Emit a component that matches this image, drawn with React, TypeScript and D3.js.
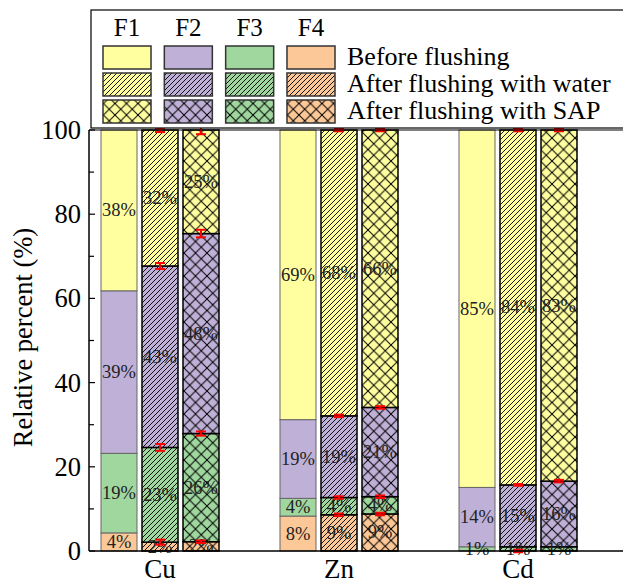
import React from "react";
import { scaleLinear, scaleBand } from "d3";

const width = 623;
const height = 588;

const metals = ["Cu", "Zn", "Cd"];
const conditions = ["Before flushing", "After flushing with water", "After flushing with SAP"];
const fractions = ["F1", "F2", "F3", "F4"];
const colors = ["#FFFFA0", "#BFB0D7", "#9FD79E", "#FDC897"];
const patterns = ["none", "diag", "cross"];

// values per bar, ordered Cu(before, water, SAP), Zn(...), Cd(...)
const F1 = [38.2, 32.3, 24.6, 68.8, 67.9, 65.9, 84.9, 84.3, 83.4];
const F2 = [38.6, 43.1, 47.5, 18.7, 19.4, 21.2, 14.1, 14.7, 15.6];
const F3 = [18.9, 22.5, 25.7, 4.2, 4.1, 4.1, 1.0, 1.0, 1.0];
const F4 = [4.3, 2.1, 2.2, 8.3, 8.6, 8.8, 0, 0, 0];

// error bars at the top of each segment
const errF1 = [0, 0.5, 1.0, 0, 0.3, 0.3, 0, 0.3, 0.3];
const errF2 = [0, 0.7, 0.9, 0, 0.3, 0.3, 0, 0.2, 0.3];
const errF3 = [0, 0.8, 0.5, 0, 0.3, 0.3, 0, 0, 0];
const errF4 = [0, 0.6, 0.3, 0, 0.3, 0.3, 0, 0.3, 0];

const yTicks = [0, 20, 40, 60, 80, 100];
const yMinor = [10, 30, 50, 70, 90];

const font = "Liberation Serif, Times New Roman, DejaVu Serif, serif";

const App = () => {
  const y = scaleLinear().domain([0, 100]).range([551, 130]);
  const x = scaleBand().domain(metals).range([70.5, 607.5]);
  const xInner = scaleBand().domain(conditions).range([-59, 59]).paddingInner(0.122);
  const bw = xInner.bandwidth();

  const legX = scaleBand().domain(fractions).range([103, 335]).paddingInner(0.217);
  const legRows = [46, 73, 100];

  // stack bottom-up: F4, F3, F2, F1
  const stackOrder = [3, 2, 1, 0];
  const values = [F1, F2, F3, F4];
  const errs = [errF1, errF2, errF3, errF4];

  const bars: any[] = [];
  metals.forEach((m, mi) => {
    conditions.forEach((c, ci) => {
      const idx = mi * 3 + ci;
      let cum = 0;
      const x0 = (x(m) as number) + x.bandwidth() / 2 + (xInner(c) as number);
      stackOrder.forEach(fi => {
        const v = values[fi][idx];
        bars.push({ m, c, ci, fi, x0, y0: cum, y1: cum + v, v, err: errs[fi][idx] });
        cum += v;
      });
    });
  });

  return (
    <svg width={width} height={height}
      style={{ position: "absolute", left: 0, top: 0, background: "#fff", fontFamily: font }}>
      <defs>
        <pattern id="diag" patternUnits="userSpaceOnUse" width={5} height={5}>
          <path d="M-1,1 l2,-2 M0,5 l5,-5 M4,6 l2,-2" stroke="#000" strokeWidth={0.9} />
        </pattern>
        <pattern id="cross" patternUnits="userSpaceOnUse" width={11.5} height={11.5}>
          <path d="M0,0 L11.5,11.5 M11.5,0 L0,11.5" stroke="#000" strokeWidth={1} />
        </pattern>
      </defs>

      {bars.map((b, i) => {
        if (b.v <= 0) return null;
        const hatched = b.ci > 0;
        return (
          <g key={"bar" + i}>
            <rect x={b.x0} y={y(b.y1)} width={bw} height={y(b.y0) - y(b.y1)} fill={colors[b.fi]} />
            {hatched && (
              <rect x={b.x0} y={y(b.y1)} width={bw} height={y(b.y0) - y(b.y1)} fill={`url(#${patterns[b.ci]})`} />
            )}
            <rect x={b.x0} y={y(b.y1)} width={bw} height={y(b.y0) - y(b.y1)} fill="none"
              stroke={hatched ? "#000" : "#666"} strokeWidth={hatched ? 1.5 : 1} />
          </g>
        );
      })}

      {bars.map((b, i) => {
        const lab = Math.round(b.v);
        if (lab < 1) return null;
        return (
          <text key={"lab" + i} x={b.x0 + bw / 2} y={y((b.y0 + b.y1) / 2)} fontSize={18.5}
            textAnchor="middle" dominantBaseline="central" fill="#222">
            {lab}%
          </text>
        );
      })}

      {bars.map((b, i) => {
        if (!b.err) return null;
        const cx = b.x0 + bw / 2;
        const top = y(b.y1 + b.err);
        const bot = y(b.y1 - b.err);
        return (
          <g key={"err" + i} stroke="#ff0000" strokeWidth={2}>
            <line x1={cx} x2={cx} y1={top} y2={bot} />
            <line x1={cx - 5} x2={cx + 5} y1={top} y2={top} />
            <line x1={cx - 5} x2={cx + 5} y1={bot} y2={bot} />
          </g>
        );
      })}

      {/* axes */}
      <line x1={89} x2={89} y1={y(100)} y2={y(0)} stroke="#000" strokeWidth={1.5} />
      <line x1={89} x2={width + 5} y1={y(0)} y2={y(0)} stroke="#000" strokeWidth={1.5} />
      <line x1={89} x2={width + 5} y1={y(100)} y2={y(100)} stroke="#000" strokeWidth={1.2} />
      {yTicks.map(t => (
        <g key={"t" + t}>
          <line x1={89} x2={95} y1={y(t)} y2={y(t)} stroke="#000" strokeWidth={1.2} />
          <text x={81} y={y(t)} fontSize={26.5} textAnchor="end" dominantBaseline="central">{t}</text>
        </g>
      ))}
      {yMinor.map(t => (
        <line key={"m" + t} x1={89} x2={94} y1={y(t)} y2={y(t)} stroke="#000" strokeWidth={1.2} />
      ))}
      <text transform={`translate(23, ${(y(0) + y(100)) / 2 - 3}) rotate(-90)`} fontSize={26.5}
        textAnchor="middle" dominantBaseline="central">Relative percent (%)</text>
      {metals.map(m => (
        <text key={m} x={(x(m) as number) + x.bandwidth() / 2} y={578} fontSize={27} textAnchor="middle">{m}</text>
      ))}

      {/* legend */}
      <rect x={91} y={10} width={600} height={118} fill="#fff" stroke="#000" strokeWidth={1.2} />
      {fractions.map((f, fi) => (
        <g key={f}>
          <text x={(legX(f) as number) + legX.bandwidth() / 2} y={36} fontSize={25} textAnchor="middle">{f}</text>
          {conditions.map((c, ci) => (
            <g key={c}>
              <rect x={legX(f)} y={legRows[ci]} width={legX.bandwidth()} height={23} fill={colors[fi]} />
              {ci > 0 && (
                <rect x={legX(f)} y={legRows[ci]} width={legX.bandwidth()} height={23} fill={`url(#${patterns[ci]})`} />
              )}
              <rect x={legX(f)} y={legRows[ci]} width={legX.bandwidth()} height={23} fill="none" stroke="#333" strokeWidth={1.5} />
            </g>
          ))}
        </g>
      ))}
      {conditions.map((c, ci) => (
        <text key={"lt" + ci} x={347} y={legRows[ci] + 11.5 + 7.5} fontSize={26}>{c}</text>
      ))}
    </svg>
  );
};

export default App;
